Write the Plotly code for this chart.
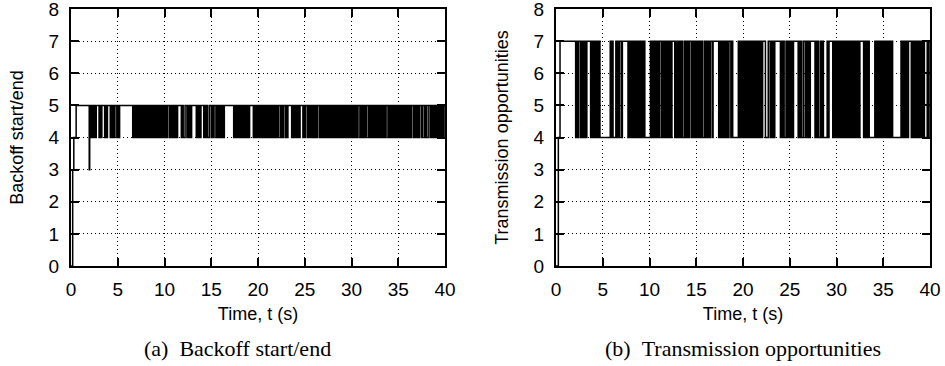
import plotly.graph_objects as go

# ---------------- data ----------------
# (a) Backoff start/end : explicit start-up changes, then 0.1 s samples from t = 2.0 s
a_start_t = [0.0, 0.18, 0.30, 0.55, 1.95]
a_start_v = [0, 3, 4, 5, 3]
a_samples = [
    "4545454555", "4545554545", "5545454554", "5455555555", "5555554545",  # 2-6 s
    "4545454545", "4545454545", "4545454545", "4545545454", "5454555545",  # 7-11 s
    "4455454545", "5555454545", "5545454455", "4545545454", "5454555555",  # 12-16 s
    "5555454545", "4545454545", "4555545454", "5454545454", "5454545454",  # 17-21 s
    "5455454554", "5455554545", "4545455545", "4554545454", "5454554545",  # 22-26 s
    "4545454545", "4545454545", "4545454545", "4545454554", "5454545545",  # 27-31 s
    "4545454545", "4545454554", "5454545454", "5454545454", "5454554545",  # 32-36 s
    "4545545545", "4455454545", "4545454545",                              # 37-39 s
]

# (b) Transmission opportunities
b_start_t = [0.0, 0.25, 0.43]
b_start_v = [0, 4, 7]
b_samples = [
    "7474774747", "4747777474", "7474747444", "4444444474", "7444747477",  # 2-6 s
    "4777777474", "7474747474", "7474744444", "4747474747", "4774747474",  # 7-11 s
    "7474777474", "7474744747", "4747747474", "7474747447", "4747477477",  # 12-16 s
    "7777474747", "4747477474", "4444474747", "4747474747", "4747474747",  # 17-21 s
    "4777444774", "7474777777", "4747447474", "7474777774", "7474477474",  # 22-26 s
    "7477777474", "7447474444", "7477774747", "4747474747", "4747474747",  # 27-31 s
    "4747477774", "7474744444", "4747474747", "4747474747", "4444444447",  # 32-36 s
    "4747474777", "4747474747", "4747444747",                              # 37-39 s
]

sample_t0 = 2.0
sample_dt = 0.1
t_end = 40.0

x_ticks = [0, 5, 10, 15, 20, 25, 30, 35, 40]
y_ticks = [0, 1, 2, 3, 4, 5, 6, 7, 8]

x_title = "Time, t (s)"
y_title_a = "Backoff start/end"
y_title_b = "Transmission opportunities"
caption_a = "(a)\u00a0\u00a0Backoff start/end"
caption_b = "(b)\u00a0\u00a0Transmission opportunities"


def build(start_t, start_v, chunks):
    xs = list(start_t)
    ys = list(start_v)
    vals = "".join(chunks)
    for i, ch in enumerate(vals):
        xs.append(round(sample_t0 + i * sample_dt, 3))
        ys.append(int(ch))
    xs.append(t_end)
    ys.append(ys[-1])
    return xs, ys


ax, ay = build(a_start_t, a_start_v, a_samples)
bx, by = build(b_start_t, b_start_v, b_samples)

# ---------------- figure ----------------
W, H = 945, 366
fig = go.Figure()
fig.add_trace(go.Scatter(x=ax, y=ay, mode="lines", line=dict(color="black", width=1.5, shape="hv"),
                         xaxis="x", yaxis="y", showlegend=False))
fig.add_trace(go.Scatter(x=bx, y=by, mode="lines", line=dict(color="black", width=1.5, shape="hv"),
                         xaxis="x2", yaxis="y2", showlegend=False))

tickfont = dict(family="Liberation Sans, Arial, sans-serif", size=19, color="black")
titlefont = dict(family="Liberation Sans, Arial, sans-serif", size=18, color="black")

def xaxis(domain, anchor):
    return dict(domain=domain, anchor=anchor, range=[0, 40], tickvals=x_ticks,
                ticks="inside", ticklen=8, tickwidth=1.5, tickcolor="black",
                showline=True, linewidth=2, linecolor="black", mirror="ticks",
                showgrid=True, gridcolor="black", gridwidth=1, griddash="1px,3px",
                zeroline=False, tickfont=tickfont, ticklabelstandoff=5,
                ticklabeloverflow="allow", automargin=False,
                title=dict(text=x_title, font=titlefont, standoff=9))

def yaxis(domain, anchor, title):
    return dict(domain=domain, anchor=anchor, range=[0, 8], tickvals=y_ticks,
                ticks="inside", ticklen=8, tickwidth=1.5, tickcolor="black",
                showline=True, linewidth=2, linecolor="black", mirror="ticks",
                showgrid=True, gridcolor="black", gridwidth=1, griddash="1px,3px",
                zeroline=False, tickfont=tickfont, ticklabelstandoff=6,
                ticklabeloverflow="allow", automargin=False,
                title=dict(text=title, font=titlefont, standoff=20))

ybot = (H - 266) / H
ytop = (H - 9) / H
fig.update_layout(
    width=W, height=H,
    margin=dict(l=0, r=0, t=0, b=0, autoexpand=False),
    paper_bgcolor="white", plot_bgcolor="white",
    xaxis=xaxis([71 / W, 445 / W], "y"),
    yaxis=yaxis([ybot, ytop], "x", y_title_a),
    xaxis2=xaxis([556 / W, 930 / W], "y2"),
    yaxis2=yaxis([ybot, ytop], "x2", y_title_b),
    annotations=[
        dict(text=caption_a, x=237 / W, y=(H - 348) / H, xref="paper", yref="paper",
             showarrow=False, xanchor="center", yanchor="middle",
             font=dict(family="Liberation Serif, serif", size=22, color="black")),
        dict(text=caption_b, x=743 / W, y=(H - 348) / H, xref="paper", yref="paper",
             showarrow=False, xanchor="center", yanchor="middle",
             font=dict(family="Liberation Serif, serif", size=22, color="black")),
    ],
)

fig.write_html("out.html")
